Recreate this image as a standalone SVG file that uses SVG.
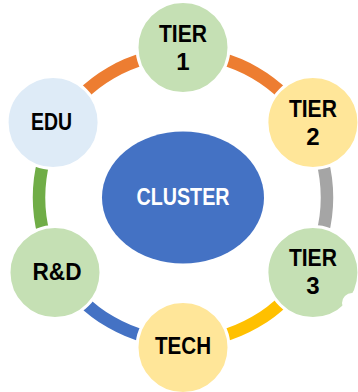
<svg xmlns="http://www.w3.org/2000/svg" width="358" height="392" viewBox="0 0 358 392">
<style>
.ring{fill:none;stroke-width:12.5}
.node{stroke:#fff;stroke-width:3}
.lbl{font-family:"Liberation Sans",Arial,sans-serif;font-weight:bold;font-size:24px;fill:#000;text-anchor:middle}
.g{fill:#C5E0B4}.y{fill:#FFE699}.b{fill:#DEEBF7}
</style>
<rect width="358" height="392" fill="#fff"/>
<g id="connectors">
<path class="ring" stroke="#ED7D31" d="M58.3,125.5 A144,144 0 0 1 183,53.5 A144,144 0 0 1 307.7,125.5"/>
<path class="ring" stroke="#A5A5A5" d="M307.7,125.5 A144,144 0 0 1 307.7,269.5"/>
<path class="ring" stroke="#FFC000" d="M307.7,269.5 A144,144 0 0 1 183,341.5"/>
<path class="ring" stroke="#4472C4" d="M183,341.5 A144,144 0 0 1 58.3,269.5"/>
<path class="ring" stroke="#70AD47" d="M58.3,269.5 A144,144 0 0 1 58.3,125.5"/>
</g>
<g id="cluster">
<ellipse cx="183" cy="197.5" rx="81" ry="66" fill="#4472C4"/>
<text class="lbl" x="183" y="205" style="fill:#fff" textLength="93" lengthAdjust="spacingAndGlyphs">CLUSTER</text>
</g>
<g id="tier1">
<circle class="node g" cx="183" cy="47.5" r="46"/>
<text class="lbl" x="183" y="42" textLength="48" lengthAdjust="spacingAndGlyphs">TIER</text>
<text class="lbl" x="183" y="69.5">1</text>
</g>
<g id="tier2">
<circle class="node y" cx="312.9" cy="122.5" r="46"/>
<text class="lbl" x="312.9" y="117" textLength="48" lengthAdjust="spacingAndGlyphs">TIER</text>
<text class="lbl" x="312.9" y="144.5">2</text>
</g>
<g id="tier3">
<circle class="node g" cx="312.9" cy="272.5" r="46"/>
<circle cx="352" cy="303" r="10" fill="#fff"/>
<text class="lbl" x="312.9" y="266" textLength="48" lengthAdjust="spacingAndGlyphs">TIER</text>
<text class="lbl" x="312.9" y="293.5">3</text>
</g>
<g id="tech">
<circle class="node y" cx="183" cy="347.5" r="46"/>
<text class="lbl" x="183" y="354" textLength="56" lengthAdjust="spacingAndGlyphs">TECH</text>
</g>
<g id="rd">
<circle class="node g" cx="55" cy="272.5" r="46"/>
<text class="lbl" x="57" y="280" textLength="49" lengthAdjust="spacingAndGlyphs">R&amp;D</text>
</g>
<g id="edu">
<circle class="node b" cx="53.1" cy="122.5" r="46"/>
<text class="lbl" x="51.5" y="129.5" textLength="41" lengthAdjust="spacingAndGlyphs">EDU</text>
</g>
</svg>
